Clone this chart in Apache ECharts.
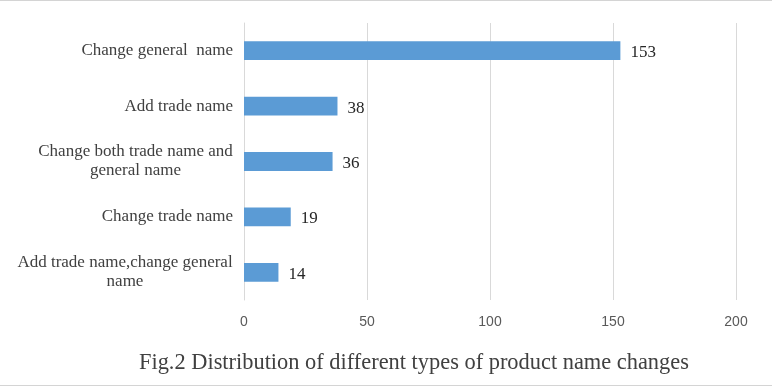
<!DOCTYPE html>
<html>
<head>
<meta charset="utf-8">
<script src="https://cdn.jsdelivr.net/npm/echarts@6/dist/echarts.min.js"></script>
<style>
html,body{margin:0;padding:0;background:#fff;}
#c{width:772px;height:387px;}
</style>
</head>
<body>
<div id="c"></div>
<script>
// Data (top to bottom as shown)
const categories = [
  "Change general  name",
  "Add trade name",
  "Change both trade name and\ngeneral name",
  "Change trade name",
  "Add trade name,change general\nname"
];
const values = [153, 38, 36, 19, 14];
const xTicks = [0, 50, 100, 150, 200];
const titleText = "Fig.2 Distribution of different types of product name changes";

const labelFont = '17px "Liberation Serif", "Times New Roman", serif';
const ctx = document.createElement('canvas').getContext('2d');
ctx.font = labelFont;
const rich = {};
const formatted = {};
categories.forEach((c, i) => {
  const lines = c.split('\n');
  if (lines.length === 1) { formatted[c] = '{n|' + c + '}'; return; }
  const w = Math.max.apply(null, lines.map(l => ctx.measureText(l).width));
  const key = 'm' + i;
  rich[key] = { width: Math.ceil(w), align: 'center', fontFamily: '"Liberation Serif", serif', fontSize: 17, color: '#404040', lineHeight: 19 };
  formatted[c] = lines.map(l => '{' + key + '|' + l + '}').join('\n');
});
rich.n = { fontFamily: '"Liberation Serif", serif', fontSize: 17, color: '#404040', lineHeight: 19 };

const chart = echarts.init(document.getElementById('c'), null, { renderer: 'canvas' });
chart.setOption({
  animation: false,
  backgroundColor: '#fff',
  title: {
    text: titleText,
    left: 134,
    top: 347,
    textStyle: { fontFamily: '"Liberation Serif", serif', fontSize: 22.4, fontWeight: 'normal', color: '#404040' }
  },
  graphic: [
    { type: 'line', shape: { x1: 0, y1: 0.5, x2: 772, y2: 0.5 }, style: { stroke: '#d4d4d4', lineWidth: 1 } },
    { type: 'line', shape: { x1: 0, y1: 385.5, x2: 772, y2: 385.5 }, style: { stroke: '#d4d4d4', lineWidth: 1 } }
  ],
  grid: { left: 244, right: 36, top: 23, bottom: 87, containLabel: false },
  xAxis: {
    type: 'value',
    min: xTicks[0],
    max: xTicks[xTicks.length - 1],
    interval: 50,
    axisLine: { show: false },
    axisTick: { show: false },
    splitLine: { show: true, lineStyle: { color: '#d9d9d9', width: 1 } },
    axisLabel: { color: '#595959', fontFamily: '"Liberation Sans", sans-serif', fontSize: 14, margin: 15 }
  },
  yAxis: {
    type: 'category',
    inverse: true,
    data: categories,
    axisLine: { show: true, lineStyle: { color: '#d9d9d9', width: 1 } },
    axisTick: { show: false },
    axisLabel: {
      margin: 11,
      align: 'right',
      formatter: v => formatted[v],
      rich: rich
    }
  },
  series: [{
    type: 'bar',
    data: values,
    barWidth: '34%',
    itemStyle: { color: '#5b9bd5' },
    label: {
      show: true,
      position: 'right',
      distance: 10,
      offset: [0, 2],
      color: '#262626',
      fontFamily: '"Liberation Serif", serif',
      fontSize: 17
    }
  }]
});
</script>
</body>
</html>
